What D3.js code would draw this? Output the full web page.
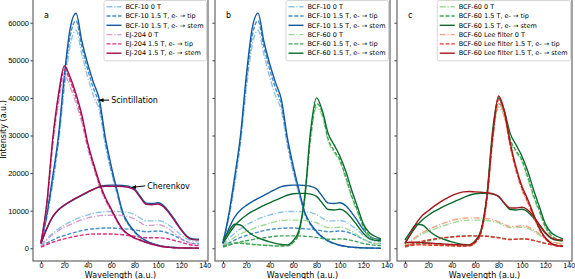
<!DOCTYPE html>
<html>
<head>
<meta charset="utf-8">
<script src="https://cdn.jsdelivr.net/npm/d3@7"></script>
<style>
  body { margin: 0; background: #fff; }
  svg { display: block; font-family: "DejaVu Sans", sans-serif; }
</style>
</head>
<body>
<div id="chart"></div>
<script>
///// DATA /////
const wavelength = [0, 5, 10, 15, 20, 25, 30, 35, 40, 45, 50, 55, 60, 65, 70, 75, 80, 85, 90, 95, 100, 105, 110, 115, 120, 125, 130, 135];

// BCF-10
const bcf10_0T_scint   = [1300, 8000, 17000, 28000, 42500, 54000, 58000, 51500, 45500, 40500, 36500, 27500, 20500, 14500, 9000, 6100, 4200, 2800, 1850, 1200, 750, 460, 280, 180, 100, 70, 40, 20];
const bcf10_tip_scint  = [1400, 8500, 18000, 29000, 44500, 56500, 60500, 53500, 47500, 42500, 38000, 28500, 21000, 15000, 9200, 6300, 4300, 2900, 1900, 1250, 780, 480, 290, 190, 110, 75, 45, 25];
const bcf10_stem_scint = [1500, 9000, 19000, 30000, 46000, 58500, 62500, 55000, 49000, 44000, 39500, 29500, 22000, 15500, 9500, 6500, 4500, 3000, 2000, 1300, 800, 500, 300, 200, 120, 80, 50, 30];
const bcf10_0T_cher    = [800, 2500, 4000, 5200, 6200, 7000, 7800, 8400, 8900, 9300, 9600, 9800, 9800, 9800, 9700, 9500, 9000, 8000, 7300, 7300, 7400, 7000, 6000, 4800, 3500, 2500, 1900, 1700];
const bcf10_tip_cher   = [500, 1400, 2200, 2900, 3400, 3900, 4300, 4700, 5000, 5200, 5300, 5400, 5400, 5300, 5200, 5100, 4900, 4600, 4400, 4500, 4600, 4400, 3900, 3200, 2400, 1700, 1300, 1200];
const bcf10_stem_cher  = [1300, 5200, 8300, 10200, 11400, 12400, 13300, 14100, 14900, 15700, 16400, 16700, 16800, 16800, 16700, 16500, 15800, 13800, 12000, 11900, 12100, 11300, 9500, 7300, 5000, 3200, 2500, 2400];

// EJ-204
const ej204_0T_scint   = [1300, 11000, 27000, 38500, 46000, 43000, 38500, 33500, 26500, 21300, 16500, 12800, 9900, 7100, 4700, 3500, 2600, 2000, 1500, 1000, 650, 370, 230, 130, 80, 50, 30, 20];
const ej204_tip_scint  = [1400, 11500, 28000, 40000, 47500, 44500, 40000, 34500, 27300, 22000, 17000, 13200, 10200, 7300, 4900, 3600, 2700, 2100, 1550, 1050, 680, 390, 240, 140, 90, 55, 35, 25];
const ej204_stem_scint = [1500, 12000, 29000, 41000, 48500, 45500, 41000, 35500, 28000, 22500, 17500, 13500, 10500, 7500, 5000, 3700, 2800, 2200, 1600, 1100, 700, 400, 250, 150, 100, 60, 40, 30];
const ej204_0T_cher    = [600, 2200, 3600, 4700, 5600, 6300, 7000, 7600, 8100, 8400, 8700, 8800, 8800, 8800, 8700, 8400, 7800, 6800, 6100, 6100, 6300, 5900, 5000, 3800, 2600, 1700, 1200, 1000];
const ej204_tip_cher   = [300, 1000, 1600, 2100, 2500, 2900, 3200, 3500, 3700, 3800, 3800, 3800, 3800, 3700, 3600, 3400, 3200, 3000, 2800, 2800, 2800, 2700, 2400, 2000, 1600, 1100, 800, 700];
const ej204_stem_cher  = [1200, 5300, 8400, 10300, 11500, 12500, 13400, 14200, 15000, 15700, 16300, 16500, 16500, 16500, 16400, 16200, 15500, 13500, 11700, 11600, 11800, 11000, 9200, 7000, 4800, 3000, 2300, 2200];

// BCF-60
const bcf60_0T_scint   = [800, 1200, 1500, 1500, 1400, 1200, 1000, 900, 800, 700, 650, 700, 1500, 4000, 13000, 29000, 37500, 35000, 28500, 25500, 23000, 18500, 13500, 9500, 5500, 3300, 2300, 1800];
const bcf60_tip_scint  = [600, 1000, 1300, 1300, 1200, 1000, 900, 800, 700, 600, 600, 650, 1500, 4200, 13500, 30000, 38500, 36000, 29000, 26000, 23500, 19000, 14000, 10000, 5800, 3500, 2400, 1900];
const bcf60_stem_scint = [2200, 4500, 6400, 6200, 4800, 3600, 2800, 2200, 1700, 1300, 1000, 900, 2000, 4800, 14000, 31500, 40000, 36500, 30500, 27500, 24500, 20500, 15500, 11000, 6500, 4200, 3200, 2500];
const bcf60_0T_cher    = [600, 1800, 2900, 3800, 4500, 5100, 5700, 6200, 6700, 7100, 7400, 7500, 7500, 7500, 7400, 7200, 6800, 6000, 5500, 5500, 5600, 5300, 4500, 3500, 2500, 1700, 1300, 1200];
const bcf60_tip_cher   = [300, 800, 1300, 1700, 2000, 2300, 2600, 2800, 3000, 3200, 3300, 3300, 3300, 3300, 3200, 3100, 2900, 2600, 2400, 2400, 2500, 2400, 2100, 1700, 1300, 1000, 800, 700];
const bcf60_stem_cher  = [1300, 3800, 6000, 7600, 8800, 9800, 10600, 11400, 12100, 12800, 13500, 14100, 14500, 14600, 14600, 14400, 13800, 12000, 10300, 10200, 10400, 9700, 8000, 6000, 4000, 2600, 2100, 2000];

// BCF-60 with Lee filter
const lee_0T_scint     = [700, 900, 1000, 1000, 950, 900, 850, 800, 750, 700, 650, 700, 1500, 4000, 12500, 28500, 38500, 35000, 27000, 20500, 15500, 12000, 8300, 4900, 2500, 1200, 600, 450];
const lee_tip_scint    = [600, 800, 900, 900, 850, 800, 750, 700, 650, 600, 600, 650, 1500, 4200, 13000, 29500, 39500, 36000, 27500, 21000, 16000, 12500, 8600, 5100, 2600, 1200, 650, 450];
const lee_stem_scint   = [1500, 1600, 1600, 1500, 1400, 1300, 1200, 1100, 1000, 950, 900, 900, 1800, 4500, 13500, 30000, 40500, 36500, 28000, 21500, 16500, 13000, 9000, 5300, 2800, 1300, 700, 500];
const lee_0T_cher      = [700, 2000, 3200, 4200, 5000, 5700, 6300, 6900, 7400, 7800, 8000, 8100, 8100, 8000, 7900, 7600, 7100, 6300, 5800, 5800, 6000, 5700, 4900, 3800, 2700, 1800, 1400, 1300];
const lee_tip_cher     = [500, 1000, 1500, 1900, 2200, 2500, 2700, 2900, 3000, 3100, 3200, 3300, 3300, 3300, 3200, 3000, 2800, 2500, 2300, 2400, 2500, 2400, 2100, 1700, 1300, 1000, 800, 700];
const lee_stem_cher    = [1200, 4000, 6800, 8800, 10000, 11200, 12300, 13200, 14000, 14600, 15000, 15100, 15000, 14900, 14800, 14500, 13800, 12000, 10700, 10700, 10900, 10200, 8500, 6300, 4200, 2800, 2300, 2200];

const xTicks = [0, 20, 40, 60, 80, 100, 120, 140];
const yTicks = [0, 10000, 20000, 30000, 40000, 50000, 60000];

///// SERIES TABLE /////
const DASHDOT = "6,1.8,1.2,1.8";
const DASHED = "4,1.8";

const bcf10 = [
    { name: "BCF-10 0 T", color: "#8ec4e6", dash: DASHDOT, scint: bcf10_0T_scint, cher: bcf10_0T_cher },
    { name: "BCF-10 1.5 T, e- \u2192 tip", color: "#4690cc", dash: DASHED, scint: bcf10_tip_scint, cher: bcf10_tip_cher },
    { name: "BCF-10 1.5 T, e- \u2192 stem", color: "#135a9f", dash: null, scint: bcf10_stem_scint, cher: bcf10_stem_cher }
];
const ej204 = [
    { name: "EJ-204 0 T", color: "#d79fd3", dash: DASHDOT, scint: ej204_0T_scint, cher: ej204_0T_cher },
    { name: "EJ-204 1.5 T, e- \u2192 tip", color: "#e02f7c", dash: DASHED, scint: ej204_tip_scint, cher: ej204_tip_cher },
    { name: "EJ-204 1.5 T, e- \u2192 stem", color: "#9c1052", dash: null, scint: ej204_stem_scint, cher: ej204_stem_cher }
];
const bcf60 = [
    { name: "BCF-60 0 T", color: "#9ed993", dash: DASHDOT, scint: bcf60_0T_scint, cher: bcf60_0T_cher },
    { name: "BCF-60 1.5 T, e- \u2192 tip", color: "#3fa55c", dash: DASHED, scint: bcf60_tip_scint, cher: bcf60_tip_cher },
    { name: "BCF-60 1.5 T, e- \u2192 stem", color: "#0b6a2e", dash: null, scint: bcf60_stem_scint, cher: bcf60_stem_cher }
];
const lee = [
    { name: "BCF-60 Lee filter 0 T", color: "#fca283", dash: DASHDOT, scint: lee_0T_scint, cher: lee_0T_cher },
    { name: "BCF-60 Lee filter 1.5 T, e- \u2192 tip", color: "#e8312b", dash: DASHED, scint: lee_tip_scint, cher: lee_tip_cher },
    { name: "BCF-60 Lee filter 1.5 T, e- \u2192 stem", color: "#a3181c", dash: null, scint: lee_stem_scint, cher: lee_stem_cher }
];

const panels = [
    { tag: "a", left: 33, series: bcf10.concat(ej204) },
    { tag: "b", left: 215, series: bcf10.concat(bcf60) },
    { tag: "c", left: 397, series: bcf60.concat(lee) }
];

///// CHART /////
const width = 575, height = 279;
const panelW = 175, plotTop = -2, plotBottom = 261;

const svg = d3.select("#chart").append("svg")
    .attr("width", width)
    .attr("height", height);

const defs = svg.append("defs");
defs.append("marker")
    .attr("id", "arrowhead")
    .attr("viewBox", "0 0 10 10")
    .attr("refX", 9).attr("refY", 5)
    .attr("markerWidth", 5).attr("markerHeight", 5)
    .attr("orient", "auto")
    .append("path")
    .attr("d", "M0,1 L10,5 L0,9 Z")
    .attr("fill", "#000");

const y = d3.scaleLinear().domain([-3380, 66570]).range([plotBottom, plotTop]);

panels.forEach((p, pi) => {
    const x = d3.scaleLinear().domain([-6.8, 142.8]).range([p.left, p.left + panelW]);
    const g = svg.append("g");

    defs.append("clipPath").attr("id", "clip" + pi)
        .append("rect")
        .attr("x", p.left).attr("y", plotTop)
        .attr("width", panelW).attr("height", plotBottom - plotTop);

    // axes
    g.append("g")
        .attr("transform", `translate(0,${plotBottom})`)
        .call(d3.axisBottom(x).tickValues(xTicks).tickSize(2.5).tickPadding(-0.8))
        .call(a => a.select(".domain").remove())
        .call(a => a.selectAll("text").attr("font-size", 7.2).attr("fill", "#000"))
        .call(a => a.selectAll("line").attr("stroke", "#333"));

    g.append("g")
        .attr("transform", `translate(${p.left},0)`)
        .call(d3.axisLeft(y).tickValues(yTicks).tickSize(2.5).tickPadding(1.5)
            .tickFormat(pi === 0 ? d3.format("d") : ""))
        .call(a => a.select(".domain").remove())
        .call(a => a.selectAll("text").attr("font-size", 7.5).attr("fill", "#000"))
        .call(a => a.selectAll("line").attr("stroke", "#333"));

    // curves: each series has a scintillation and a Cherenkov component
    const line = d3.line()
        .x((d, i) => x(wavelength[i]))
        .y(d => y(d))
        .curve(d3.curveMonotoneX);

    const lines = g.append("g").attr("clip-path", `url(#clip${pi})`).attr("fill", "none");
    p.series.forEach(s => {
        [s.scint, s.cher].forEach(vals => {
            lines.append("path")
                .attr("d", line(vals))
                .attr("stroke", s.color)
                .attr("stroke-width", 1.4)
                .attr("stroke-dasharray", s.dash);
        });
    });

    // frame
    g.append("rect")
        .attr("x", p.left).attr("y", plotTop)
        .attr("width", panelW).attr("height", plotBottom - plotTop)
        .attr("fill", "none")
        .attr("stroke", "#666")
        .attr("stroke-width", 1.2);

    // panel tag
    g.append("text")
        .attr("x", p.left + 11).attr("y", 18)
        .attr("font-size", 8)
        .text(p.tag);

    // x label
    g.append("text")
        .attr("x", p.left + panelW / 2).attr("y", 278)
        .attr("text-anchor", "middle")
        .attr("font-size", 8)
        .text("Wavelength (a.u.)");

    // legend
    const leg = g.append("g");
    const box = leg.append("rect");
    const rowH = 9.3;
    let maxW = 0;
    p.series.forEach((s, i) => {
        const cy = 6.7 + i * rowH;
        leg.append("line")
            .attr("x1", 2.5).attr("x2", 17.5)
            .attr("y1", cy).attr("y2", cy)
            .attr("stroke", s.color)
            .attr("stroke-width", 1.4)
            .attr("stroke-dasharray", s.dash);
        const t = leg.append("text")
            .attr("x", 21.5).attr("y", cy)
            .attr("dy", "0.35em")
            .attr("font-size", 6.5)
            .text(s.name);
        maxW = Math.max(maxW, t.node().getComputedTextLength());
    });
    const boxW = 21.5 + maxW + 3;
    box.attr("x", 0).attr("y", 0.5)
        .attr("width", boxW).attr("height", 6 * rowH + 4.5)
        .attr("rx", 2)
        .attr("fill", "#fff").attr("fill-opacity", 0.8)
        .attr("stroke", "#ccc").attr("stroke-width", 0.8);
    leg.attr("transform", `translate(${p.left + panelW - 1.5 - boxW},0)`);

    // annotations on panel a
    if (pi === 0) {
        const notes = [
            { text: "Scintillation", tx: 60, ty: 39400, ax: 49.7, ay: 39400 },
            { text: "Cherenkov", tx: 90.8, ty: 16600, ax: 77.7, ay: 16200 }
        ];
        notes.forEach(n => {
            g.append("line")
                .attr("x1", x(n.tx) - 2).attr("y1", y(n.ty))
                .attr("x2", x(n.ax)).attr("y2", y(n.ay))
                .attr("stroke", "#000").attr("stroke-width", 1)
                .attr("marker-end", "url(#arrowhead)");
            g.append("text")
                .attr("x", x(n.tx)).attr("y", y(n.ty))
                .attr("dy", "0.35em")
                .attr("font-size", 8)
                .text(n.text);
        });
    }
});

// shared y label
svg.append("text")
    .attr("transform", `translate(6,${(plotTop + plotBottom) / 2}) rotate(-90)`)
    .attr("text-anchor", "middle")
    .attr("font-size", 8)
    .text("Intensity (a.u.)");
</script>
</body>
</html>
